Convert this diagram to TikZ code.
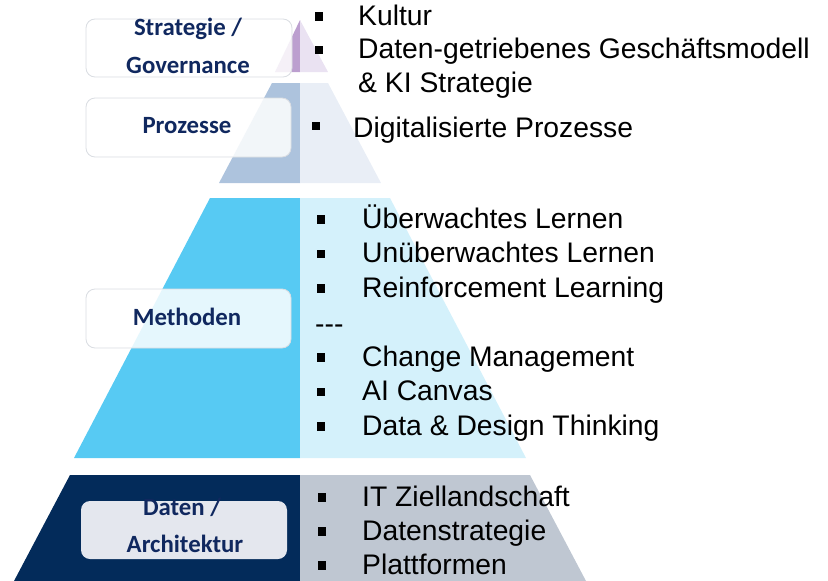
\documentclass[tikz,border=0pt]{standalone}
\usepackage{fontspec}
\setmainfont{Liberation Sans}
\newfontfamily\labelfont{Carlito}
\definecolor{lapurple}{HTML}{BC9FCF}
\definecolor{lbpurple}{HTML}{EAE2F2}
\definecolor{lasteel}{HTML}{ADC3DD}
\definecolor{lbsteel}{HTML}{E9EEF6}
\definecolor{lasky}{HTML}{57CAF3}
\definecolor{lbsky}{HTML}{D4F1FB}
\definecolor{lanavy}{HTML}{032B5A}
\definecolor{lbgray}{HTML}{BFC7D2}
\definecolor{labnavy}{HTML}{10285F}
\definecolor{boxline}{HTML}{DADDE2}
\definecolor{boxfill}{HTML}{E4E7EE}
\begin{document}
\begin{tikzpicture}[x=1pt,y=-1pt,
  lbox/.style={draw=boxline, line width=0.8pt, fill=white, fill opacity=0.85, draw opacity=1,
    rounded corners=9pt, minimum width=205pt, minimum height=58pt, inner sep=0pt},
  ltext/.style={font=\labelfont\bfseries\fontsize{24.8}{28}\selectfont, text=labnavy, anchor=base, inner sep=0pt},
  item/.style={font=\fontsize{28.3}{34}\selectfont, anchor=base west, inner sep=0pt},
  bul/.style={fill=black, minimum size=8.5pt, inner sep=0pt}]
\useasboundingbox (0,0) rectangle (828,581);
% layer 1
\fill[lapurple] (300,20) -- (275,72) -- (300,72) -- cycle;
\fill[lbpurple] (300,20) -- (328,72) -- (300,72) -- cycle;
% layer 2
\fill[lasteel] (272,83) -- (300,83) -- (300,183) -- (219,183) -- cycle;
\fill[lbsteel] (300,83) -- (328,83) -- (381,183) -- (300,183) -- cycle;
% layer 3
\fill[lasky] (210,198) -- (300,198) -- (300,458) -- (74,458) -- cycle;
\fill[lbsky] (300,198) -- (390,198) -- (526,458) -- (300,458) -- cycle;
% layer 4
\fill[lanavy] (70,475) -- (300,475) -- (300,581) -- (14,581) -- cycle;
\fill[lbgray] (300,475) -- (530,475) -- (586,581) -- (300,581) -- cycle;
% label boxes
\node[lbox, minimum width=206pt] (bstrat) at (189,48) {};
\node[lbox, minimum height=59pt] (bproz) at (188.5,127.5) {};
\node[lbox, minimum height=59pt] (bmeth) at (188.5,318.5) {};
\node[lbox, fill=boxfill, fill opacity=1, draw=none, minimum width=206pt] (bdaten) at (184,530) {};
% label texts
\node[ltext] (tstrat1) at (188,35) {Strategie /};
\node[ltext] (tstrat2) at (188,73) {Governance};
\node[ltext] (tproz) at (187,133) {Prozesse};
\node[ltext] (tmeth) at (187,325) {Methoden};
\node[ltext] (tdaten1) at (182,515) {Daten /};
\node[ltext] (tdaten2) at (185,552) {Architektur};
% strategy items
\node[bul] (s1) at (319,16.5) {};
\node[item] (st1) at (358,25) {Kultur};
\node[bul] (s2) at (319,50) {};
\node[item] (st2) at (358,58.5) {Daten-getriebenes Geschäftsmodell};
\node[item] (st3) at (358,92) {\& KI Strategie};
% process items
\node[bul] (p1) at (316,126) {};
\node[item] (pt1) at (353,137) {Digitalisierte Prozesse};
% method items
\node[bul] (m1) at (321,219.5) {};
\node[item] (mt1) at (362,228) {Überwachtes Lernen};
\node[bul] (m2) at (321,254) {};
\node[item] (mt2) at (362,262.5) {Unüberwachtes Lernen};
\node[bul] (m3) at (321,288.5) {};
\node[item] (mt3) at (362,297) {Reinforcement Learning};
\node[item] (msep) at (315,333) {-{}-{}-};
\node[bul] (m4) at (321,357.5) {};
\node[item] (mt4) at (362,366) {Change Management};
\node[bul] (m5) at (321,392) {};
\node[item] (mt5) at (362,400.5) {AI Canvas};
\node[bul] (m6) at (321,426.5) {};
\node[item] (mt6) at (362,435) {Data \& Design Thinking};
% data items
\node[bul] (d1) at (322,497.5) {};
\node[item] (dt1) at (362,506) {IT Ziellandschaft};
\node[bul] (d2) at (322,531.5) {};
\node[item] (dt2) at (362,540) {Datenstrategie};
\node[bul] (d3) at (322,565.5) {};
\node[item] (dt3) at (362,574) {Plattformen};
\end{tikzpicture}
\end{document}
